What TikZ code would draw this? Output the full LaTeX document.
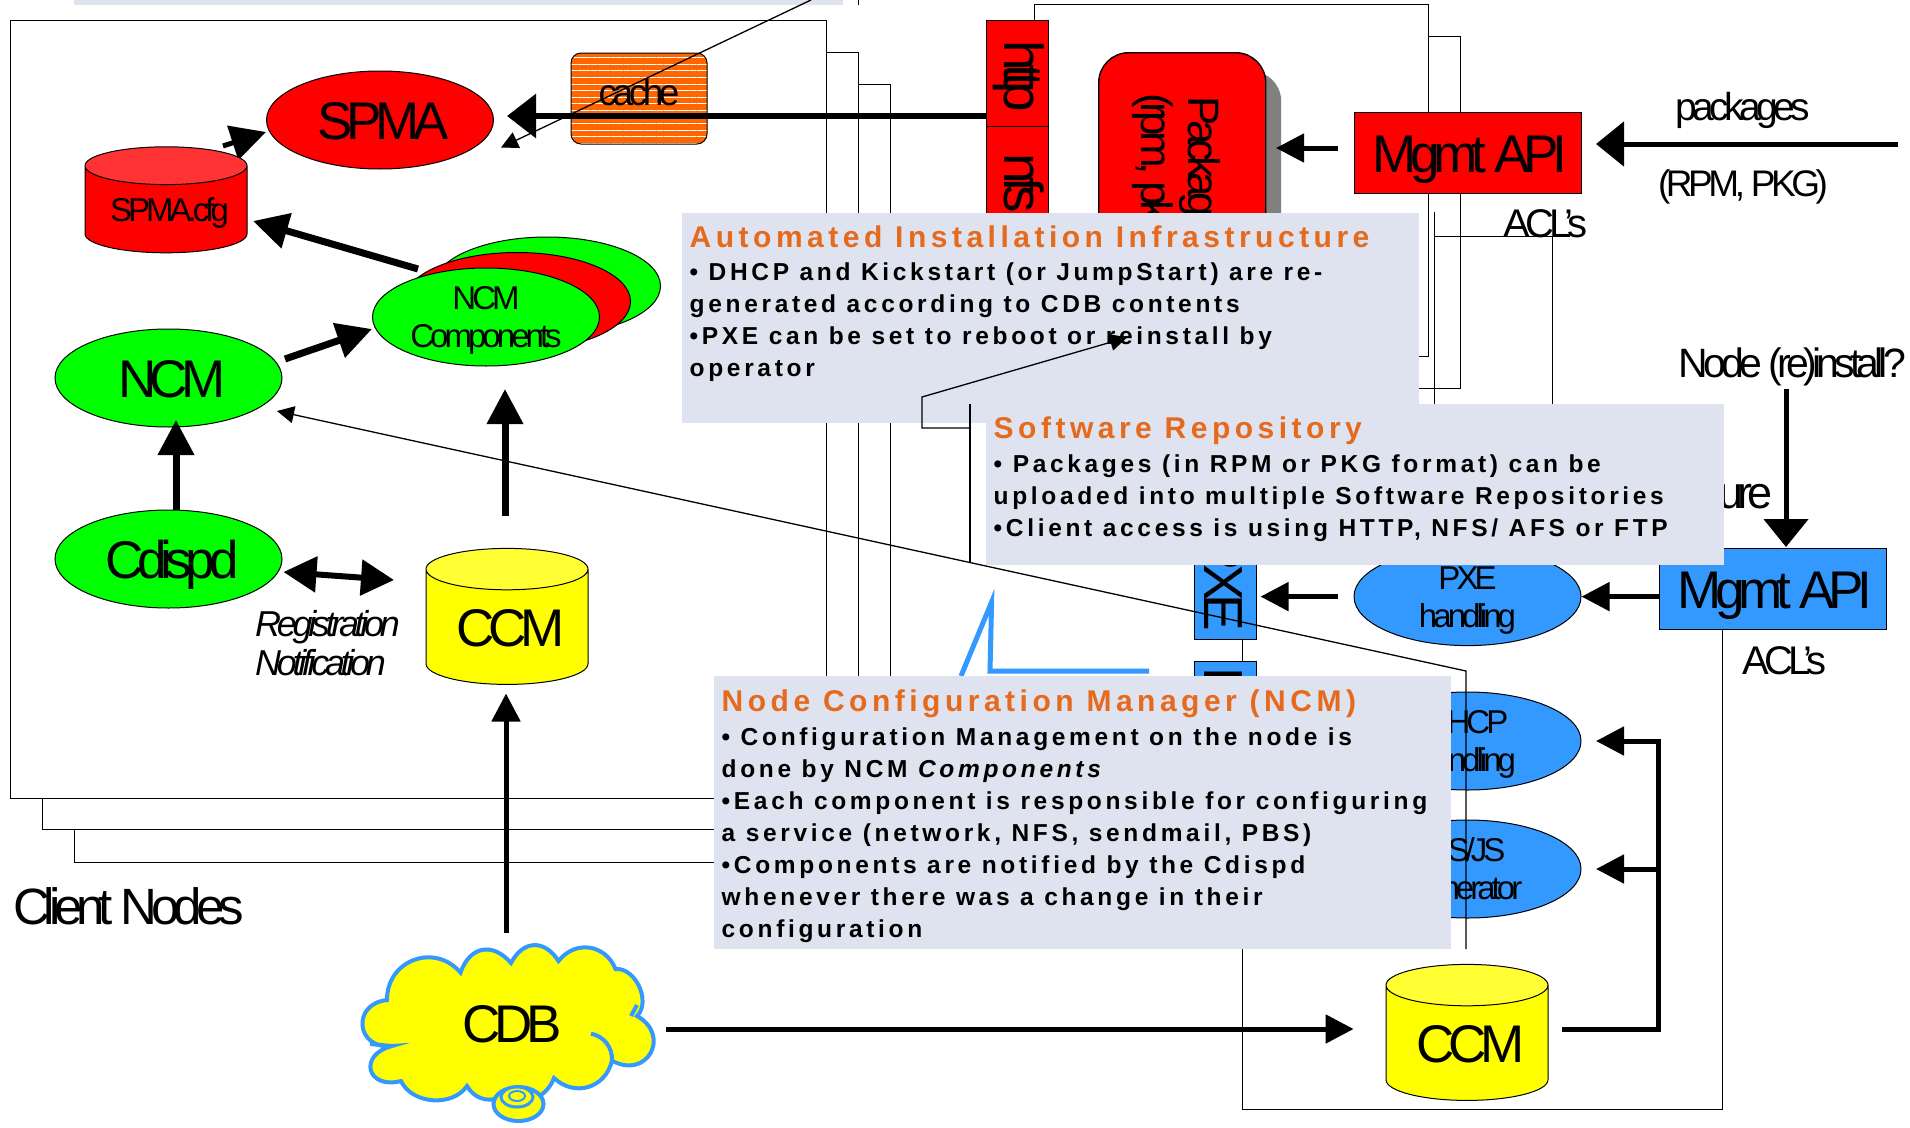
\documentclass[tikz,border=0pt]{standalone}
\usepackage{fontspec}
\usepackage{xcolor}
\usepackage{tikz}
\usetikzlibrary{arrows.meta,positioning,shapes.geometric,patterns.meta}
\setmainfont{Liberation Sans}
\newfontfamily\tightfont[LetterSpace=-12]{Liberation Sans}
\newfontfamily\spacefont[LetterSpace=15]{Liberation Sans}
\newfontfamily\headfont[LetterSpace=15]{Liberation Sans}
\definecolor{infofill}{HTML}{DEE3EF}
\definecolor{infoink}{HTML}{E66A1E}
\definecolor{srvblue}{HTML}{3399FF}
\definecolor{cfgred}{HTML}{FF3333}
\definecolor{ccmyellow}{HTML}{FFFF00}
\definecolor{cfgyellow}{HTML}{FFFF33}
\definecolor{cacheorange}{HTML}{FF6600}
\newcommand{\tsize}[1]{\tightfont\fontsize{#1}{38}\selectfont}
\newcommand{\infotitle}[2]{{\headfont\bfseries\fontsize{30}{33}\selectfont\color{infoink}\rule{0pt}{#1pt}#2\par}\vspace{1.3pt}}

\begin{document}
\begin{tikzpicture}[x=1pt,y=-1pt,
  frame/.style={draw=black, line width=1.4pt},
  oval/.style={ellipse, draw=black, line width=1pt, inner sep=0pt, minimum width=227pt, minimum height=98pt, align=center, font=\tsize{33}, text height=61pt, text depth=0pt},
  bigoval/.style={oval, font=\tsize{53}, text height=39pt, text depth=0pt, execute at begin node={\hspace*{7pt}}},
  can/.style={cylinder, shape border rotate=90, draw=black, line width=1pt, inner sep=0pt, aspect=0.36, cylinder uses custom fill, font=\tsize{53}, text height=38pt, text depth=0pt, execute at begin node={\hspace*{7pt}}},
  slot/.style={rectangle, draw=black, line width=1pt, inner sep=0pt, minimum width=62pt, anchor=north west},
  turned/.style={rotate=-90, inner sep=0pt, font=\tsize{55}},
  api/.style={rectangle, draw=black, line width=1.4pt, inner sep=0pt, minimum width=227pt, minimum height=81pt, font=\tsize{53}, anchor=north west, text height=39pt, text depth=0pt, execute at begin node={\hspace*{4pt}}},
  lbl/.style={inner sep=0pt, font=\tsize{37}},
  info/.style={rectangle, fill=infofill, inner xsep=7.5pt, inner ysep=0pt, anchor=north west},
  heavy/.style={-{Triangle[length=35pt,width=35pt]}, line width=7pt},
  medium/.style={-{Triangle[length=28pt,width=28pt]}, line width=5pt},
  wide/.style={-{Triangle[length=28pt,width=44pt]}, line width=5pt},
  thin/.style={-{Triangle[length=17pt,width=17pt]}, line width=1.3pt}]
  \useasboundingbox (0,0) rectangle (1910,1127);

  % boxes behind everything
  \node[rectangle, fill=infofill, minimum width=769pt, minimum height=5pt, inner sep=0pt, anchor=north west] (topbox) at (74,0) {};
  \coordinate (toptick) at (858,0);
  \coordinate (toptickend) at (858,5);
  \draw[line width=1pt] (toptick) -- (toptickend);
  \node[rectangle, frame, minimum width=816pt, minimum height=778pt, anchor=north west, fill=white] (clientc) at (74,84) {};
  \node[rectangle, frame, minimum width=816pt, minimum height=777pt, anchor=north west, fill=white] (clientb) at (42,52) {};
  \node[rectangle, frame, minimum width=816pt, minimum height=778pt, anchor=north west, fill=white] (clienta) at (10,20) {};
  \node[rectangle, frame, minimum width=425pt, minimum height=352pt, anchor=north west] (srvb) at (1035,36) {};
  \node[rectangle, frame, minimum width=394pt, minimum height=352pt, anchor=north west, fill=white] (srva) at (1034,4) {};
  \node[rectangle, frame, minimum width=480pt, minimum height=650pt, anchor=north west] (srvc) at (1242,459) {};
  \coordinate (aclcorner) at (1434,236);
  \coordinate (aclend) at (1552,404);
  \draw[line width=1pt] (1434,212) -- (1434,404);
  \draw[line width=1pt] (aclcorner) -- (1552,236) -- (aclend);

  % repository and install server
  \node[slot, fill=red, minimum height=106pt] (http) at (985.5,20) {};
  \node[slot, fill=red, minimum height=120pt] (nfs) at (985.5,126) {};
  \node[turned, anchor=base west] at (1004,40) {http};
  \node[turned, anchor=base west] at (1004,153) {nfs};
  \node[rectangle, fill=black!50, rounded corners=30pt, minimum width=168pt, minimum height=190pt, anchor=north west] (pkgshade) at (1113,71) {};
  \node[rectangle, draw=black, line width=1.4pt, fill=red, rounded corners=30pt, minimum width=167pt, minimum height=190pt, anchor=north west] (pkg) at (1098,52) {};
  \node[turned, font=\tsize{44}, anchor=base west] at (1188,96) {Packag};
  \node[turned, font=\tsize{44}, anchor=base west] at (1141,93) {(rpm, pk};
  \node[api, fill=red] (apir) at (1354,112) {Mgmt API};
  \node[lbl, anchor=base west, font=\tsize{40}] (aclr) at (1503,237.5) {ACL’s};
  \node[lbl, anchor=base, font=\tsize{39}] (pkglbl) at (1743,120) {packages};
  \node[lbl, anchor=base] (rpmlbl) at (1743,196) {(RPM, PKG)};
  \coordinate (pkgin) at (1898,144);
  \coordinate (pkgtip) at (1596,144);
  \coordinate (apirout) at (1338,148);
  \coordinate (pkgside) at (1276,148);
  \draw[wide] (pkgin) -- (pkgtip);
  \draw[medium] (apirout) -- (pkgside);

  % client node
  \node[bigoval, fill=red] (spma) at (380,120) {SPMA};
  \coordinate (cfgtail) at (223,146);
  \coordinate (spmaside) at (266,132);
  \draw[line width=5pt, -{Triangle[length=35pt,width=35pt]}] (cfgtail) -- (spmaside);
  \node[can, minimum width=162pt, minimum height=106pt, aspect=0.3, cylinder body fill=red, cylinder end fill=cfgred, font=\tsize{33}, text height=24pt, execute at begin node={}] (cfg) at (166,209.5) {SPMA.cfg};
  \node[rectangle, draw=black, line width=1pt, rounded corners=10pt, minimum width=136pt, minimum height=91pt, font=\tsize{37}, text height=14pt, text depth=0pt,
        preaction={fill=cacheorange}, pattern={Lines[angle=0,distance=6.6pt,line width=1pt]}, pattern color=white] (cache) at (639,98.5) {cache};
  \node[oval, fill=green] (compc) at (547,286) {};
  \node[oval, fill=red] (compb) at (517,301.5) {};
  \node[oval, fill=green] (compa) at (486,317) {NCM\\Components};
  \node[bigoval, fill=green] (ncm) at (168.5,378) {NCM};
  \node[bigoval, fill=green, below=82pt of ncm] (cdispd) {Cdispd};
  \node[can, minimum width=162pt, minimum height=136pt, cylinder body fill=ccmyellow, cylinder end fill=cfgyellow] (ccma) at (507,627) {CCM};
  \node[lbl, anchor=base west, font=\itshape\tsize{36}] (reg) at (255,636) {\itshape Registration};
  \node[lbl, anchor=base west, font=\itshape\tsize{36}] (notif) at (255,675) {\itshape Notification};
  \node[lbl, anchor=base west, font=\tsize{51}] (clients) at (13,924) {Client Nodes};

  \coordinate (httpout) at (985.5,116);
  \coordinate (spmain) at (507,116);
  \draw[line width=6pt, -{Triangle[length=29pt,width=43pt]}] (httpout) -- (spmain);
  \coordinate (dlinetop) at (811,0);
  \coordinate (dlinetip) at (501,147.5);
  \draw[thin] (dlinetop) -- (dlinetip);
  \coordinate (comptail) at (418,269);
  \coordinate (cfgside) at (253,221);
  \draw[heavy] (comptail) -- (cfgside);
  \coordinate (ncmout) at (285,359);
  \coordinate (compin) at (372,329);
  \draw[heavy] (ncmout) -- (compin);
  \coordinate (cdispdup) at (176,510);
  \coordinate (ncmunder) at (176,420);
  \draw[heavy] (cdispdup) -- (ncmunder);
  \coordinate (ccmup) at (505,516);
  \coordinate (compunder) at (505,389);
  \draw[heavy] (ccmup) -- (compunder);
  \coordinate (regleft) at (283.5,572);
  \coordinate (regright) at (394,580);
  \draw[line width=6pt, {Triangle[length=33pt,width=35pt]}-{Triangle[length=33pt,width=35pt]}] (regleft) -- (regright);

  % install server lower part
  \node[slot, fill=srvblue, minimum height=160pt] (pxe) at (1193.7,478.5) {};
  \node[slot, fill=srvblue, minimum height=120pt] (dhcp) at (1193.7,660.6) {};
  \node[turned, anchor=base east] at (1204,631) {PXE};
  \node[turned, anchor=base west] at (1204,667) {D};
  \node[api, fill=srvblue] (apib) at (1658.5,548) {Mgmt API};
  \node[oval, fill=srvblue] (pxeh) at (1467.5,596.6) {PXE\\handling};
  \node[oval, fill=srvblue] (dhcph) at (1467.5,741) {DHCP\\handling};
  \node[oval, fill=srvblue] (ksgen) at (1467.5,869) {KS/JS\\generator};
  \node[can, minimum width=162pt, minimum height=136pt, cylinder body fill=ccmyellow, cylinder end fill=cfgyellow] (ccmb) at (1467,1043) {CCM};
  \node[lbl, anchor=base west, font=\tsize{40}] (aclb) at (1742,674) {ACL’s};
  \node[lbl, anchor=base west, font=\tsize{41}] (nodelbl) at (1678.7,377) {Node (re)install?};
  \node[lbl, anchor=base west, font=\tsize{45}] (urelbl) at (1718,508) {ure};
  \coordinate (reinst) at (1786,388.6);
  \coordinate (apitop) at (1786,547);
  \draw[wide] (reinst) -- (apitop);
  \draw[medium] (apib.west |- pxeh) -- (pxeh.east);
  \coordinate (pxeout) at (1338,596.6);
  \coordinate (pxetip) at (1260.5,596.6);
  \draw[medium] (pxeout) -- (pxetip);
  \coordinate (cdbout) at (666,1029);
  \coordinate (ccmbin) at (1353.6,1029);
  \draw[medium] (cdbout) -- (ccmbin);
  \coordinate (ccmbout) at (1562,1029);
  \coordinate (busb) at (1658.5,1029);
  \coordinate (dhcptip) at (1596,741);
  \coordinate (kstip) at (1596,869);
  \draw[medium] (ccmbout) -- (busb) -- (busb |- dhcptip) -- (dhcptip);
  \draw[medium] (busb |- kstip) -- (kstip);

  % cloud
  \draw[srvblue, line width=4pt, fill=ccmyellow] (387,1000) to[bend left=70,looseness=1.3] (460.5,972.6) to[bend left=60,looseness=1.4] (511,963) to[bend left=60,looseness=1.4] (558.5,961)
    to[bend left=60,looseness=1.2] (615.5,969) to[bend left=70] (637,1016) to[bend left=90,looseness=2] (612,1060.6) to[bend left=60,looseness=1.2] (554,1078)
    to[bend left=50] (499,1098) to[bend left=40] (467,1086) to[bend left=60] (401,1081) to[bend left=90,looseness=2.5] (392,1046) to[bend left=90,looseness=2] cycle;
  \draw[srvblue, line width=4pt] (591,1033.6) to[bend left=40] (612,1060.6);
  \draw[srvblue, line width=4pt] (392,1046) -- (370,1044);
  \draw[srvblue, line width=4pt] (631,1016) -- (637,1005);
  \draw[srvblue, line width=4pt, fill=ccmyellow] (518.5,1104) circle[x radius=25pt, y radius=17pt];
  \draw[srvblue, line width=3pt, fill=ccmyellow] (517,1097) circle[x radius=16pt, y radius=10pt];
  \draw[srvblue, line width=2pt] (517,1096) circle[x radius=8pt, y radius=5pt];
  \node[inner sep=0pt, font=\tsize{53}, text height=38pt, text depth=0pt] (cdb) at (512,1023) {CDB};
  \coordinate (cdbup) at (506,932.5);
  \coordinate (ccmaunder) at (506,693.5);
  \draw[medium] (cdbup) -- (ccmaunder);

  % pointer lines
  \coordinate (spikea) at (961,676);
  \coordinate (spikeb) at (991.6,602);
  \coordinate (spikec) at (990,671);
  \coordinate (spiked) at (1149,671);
  \draw[srvblue, line width=5pt] (spikea) -- (spikeb) -- (spikec) -- (spiked);
  \coordinate (ncmlineend) at (1466,949);
  \coordinate (ncmlinebend) at (1466,671);
  \coordinate (ncmtip) at (277,411);
  \draw[thin] (ncmlineend) -- (ncmlinebend) -- (ncmtip);

  % text boxes
  \node[info] (autobox) at (682,212.5) {\parbox[t][210pt][t]{722pt}{\spacefont\bfseries\fontsize{24.5}{32}\selectfont
    \infotitle{34.5}{Automated Installation Infrastructure}
    • DHCP and Kickstart (or JumpStart) are re-\\
    generated according to CDB contents\\
    •PXE can be set to reboot or reinstall by\\
    operator}};
  \coordinate (calloutc) at (970,404);
  \coordinate (calloutd) at (970,563);
  \coordinate (calloute) at (970,428);
  \coordinate (calloutf) at (922,428);
  \coordinate (calloutg) at (922,397);
  \coordinate (callouttip) at (1127,337.5);
  \draw[line width=1.3pt] (calloutc) -- (calloutd);
  \draw[thin] (calloute) -- (calloutf) -- (calloutg) -- (callouttip);
  \node[info] (repobox) at (986,404) {\parbox[t][161pt][t]{722.5pt}{\spacefont\bfseries\fontsize{24.5}{32}\selectfont
    \infotitle{34.6}{Software Repository}
    • Packages (in RPM or PKG format) can be\\
    uploaded into multiple Software Repositories\\
    •Client access is using HTTP, NFS/ AFS or FTP}};
  \node[info] (ncmbox) at (714,676) {\parbox[t][273pt][t]{722pt}{\spacefont\bfseries\fontsize{24.5}{32}\selectfont
    \infotitle{35.5}{Node Configuration Manager (NCM)}
    • Configuration Management on the node is\\
    done by NCM {\itshape Components}\\
    •Each component is responsible for configuring\\
    a service (network, NFS, sendmail, PBS)\\
    •Components are notified by the Cdispd\\
    whenever there was a change in their\\
    configuration}};
\end{tikzpicture}
\end{document}
